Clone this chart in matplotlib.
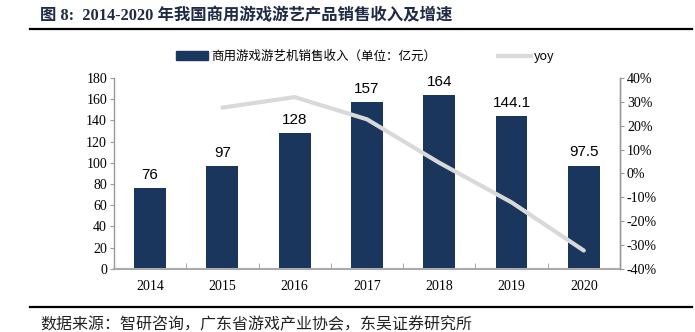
import matplotlib
matplotlib.use("Agg")
import matplotlib.pyplot as plt
from matplotlib.lines import Line2D
from matplotlib.patches import Patch

years = ["2014", "2015", "2016", "2017", "2018", "2019", "2020"]
revenue = [76, 97, 128, 157, 164, 144.1, 97.5]
revenue_labels = ["76", "97", "128", "157", "164", "144.1", "97.5"]
yoy_years = ["2015", "2016", "2017", "2018", "2019", "2020"]
yoy = [27.6, 32.0, 22.7, 4.5, -12.1, -32.3]

BAR = "#1b365d"
LINE = "#d9d9d9"
SERIF = ["Liberation Serif", "Noto Sans CJK SC"]
CJK = ["Noto Sans CJK SC", "DejaVu Sans"]

fig = plt.figure(figsize=(6.95, 3.32), dpi=100)
ax = fig.add_axes([0.164, 0.190, 0.728, 0.575])
ax2 = ax.twinx()

x = list(range(len(years)))
ax.bar(x, revenue, width=0.44, color=BAR, zorder=2)
for xi, v, lab in zip(x, revenue, revenue_labels):
    ax.text(xi, v + 6, lab, ha="center", va="bottom", fontsize=11,
            family="Liberation Sans", color="black")

yx = [years.index(y) for y in yoy_years]
ax2.plot(yx, yoy, color=LINE, lw=3, solid_capstyle="round", zorder=3)

ax.set_xlim(-0.5, len(years) - 0.5)
ax.set_ylim(0, 180)
ax.set_yticks(range(0, 181, 20))
ax2.set_ylim(-40, 40)
ax2.set_yticks(range(-40, 41, 10))
ax2.set_yticklabels([f"{t}%" for t in range(-40, 41, 10)])

ax.set_xticks(x)
ax.set_xticklabels(years)
ax.tick_params(axis="x", length=0, pad=8)
ax.set_xticks([i + 0.5 for i in x[:-1]], minor=True)
ax.tick_params(axis="x", which="minor", direction="in", length=4, color="#999999")
ax.tick_params(axis="y", length=3, color="#999999", pad=2)
ax2.tick_params(axis="y", length=3, color="#999999", pad=2)

for a in (ax, ax2):
    for lab in a.get_yticklabels() + a.get_xticklabels():
        lab.set_family(SERIF)
        lab.set_fontsize(10)
    a.spines["top"].set_visible(False)
    for s in ("left", "right", "bottom"):
        a.spines[s].set_color("#999999")
        a.spines[s].set_linewidth(1.0)
ax.spines["bottom"].set_linewidth(1.5)
ax.spines["bottom"].set_color("#aaaaaa")
ax.set_zorder(ax2.get_zorder() - 1)
ax.patch.set_visible(False)
ax2.spines["left"].set_visible(False)
ax2.spines["bottom"].set_visible(False)

handles = [Patch(color=BAR), Line2D([0], [0], color=LINE, lw=3)]
fig.legend(handles, ["商用游戏游艺机销售收入（单位：亿元）", "yoy"],
           loc="center", bbox_to_anchor=(0.525, 0.83), ncol=2, frameon=False,
           prop={"family": CJK, "size": 9}, handlelength=2.6,
           handletextpad=0.2, columnspacing=5.0)

fig.text(0.058, 0.952, "图 8:  2014-2020 年我国商用游戏游艺产品销售收入及增速",
         family=SERIF, fontsize=11.8, fontweight="bold", color="#1f2a44",
         ha="left", va="center")
fig.add_artist(Line2D([0.043, 0.995], [0.912, 0.912], color="black", lw=1.6))
fig.add_artist(Line2D([0.043, 0.995], [0.075, 0.075], color="black", lw=1.6))
fig.text(0.058, 0.022, "数据来源：智研咨询，广东省游戏产业协会，东吴证券研究所",
         family=CJK, fontsize=11.5, color="#222222", ha="left", va="center")

fig.savefig("out.png", dpi=100)
